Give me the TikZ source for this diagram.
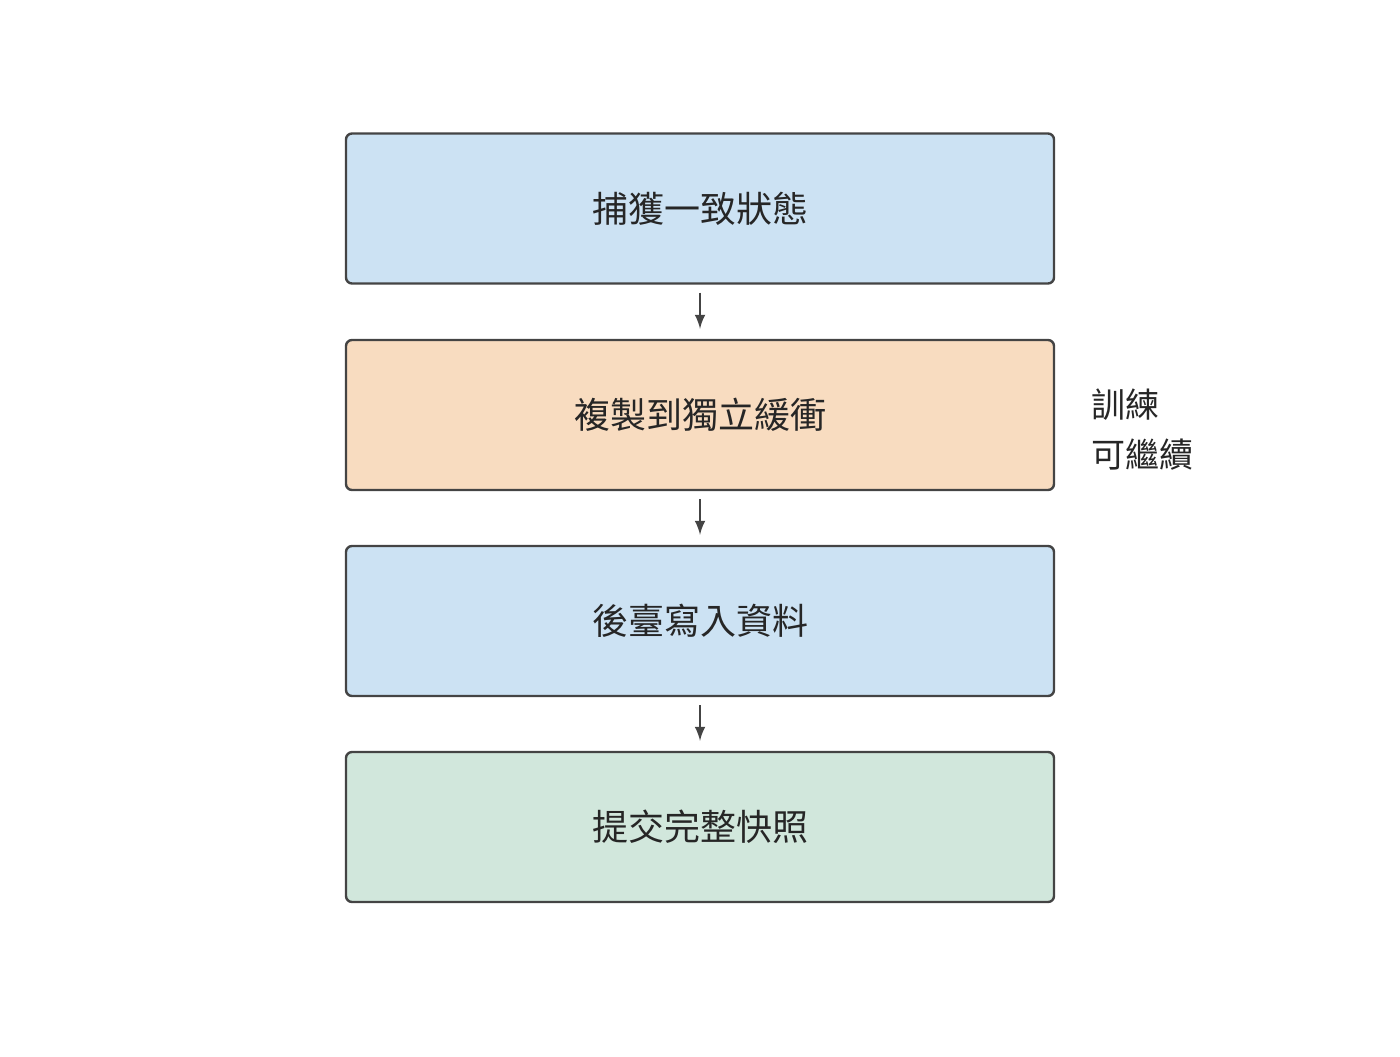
\documentclass[tikz,border=0pt]{standalone}
\usepackage{fontspec}
\setmainfont{Noto Sans CJK TC}
\usepackage{tikz}
\usetikzlibrary{positioning}
\definecolor{stepblue}{HTML}{CCE2F3}
\definecolor{steporange}{HTML}{F8DCC0}
\definecolor{stepgreen}{HTML}{D1E7DC}
\definecolor{edge}{HTML}{444444}
\tikzset{
  stage/.style={draw=edge, line width=1.2pt, rounded corners=3pt, minimum width=354pt,
    minimum height=75pt, font=\fontsize{18pt}{22pt}\selectfont, text=black!85},
  flow/.style={-latex, draw=edge, line width=1.4pt}
}
\begin{document}
\begin{tikzpicture}[x=0.5pt, y=-0.5pt]
  \useasboundingbox (0,0) rectangle (1400,1056);
  % stages
  \node[stage, fill=stepblue] (capture) at (700,208.5) {捕獲一致狀態};
  \node[stage, fill=steporange] (copy) at (700,415) {複製到獨立緩衝};
  \node[stage, fill=stepblue] (write) at (700,621) {後臺寫入資料};
  \node[stage, fill=stepgreen] (commit) at (700,827) {提交完整快照};

  % arrows
  \draw[flow] ([yshift=-4pt]capture.south) -- ([yshift=5pt]copy.north);
  \draw[flow] ([yshift=-4pt]copy.south) -- ([yshift=5pt]write.north);
  \draw[flow] ([yshift=-4pt]write.south) -- ([yshift=5pt]commit.north);

  % side note
  \node[anchor=west, align=left, font=\fontsize{17pt}{25pt}\selectfont, text=black!85] (note) at (1084,430) {訓練\\可繼續};
\end{tikzpicture}
\end{document}
